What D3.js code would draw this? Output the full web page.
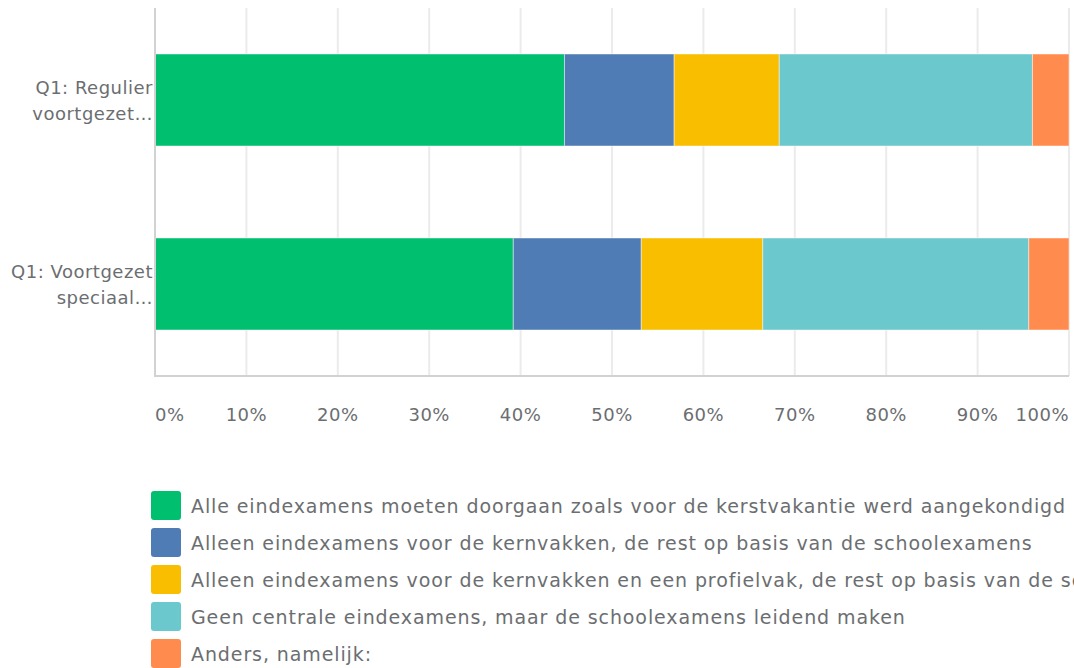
<!DOCTYPE html>
<html>
<head>
<meta charset="utf-8">
<script src="https://cdn.jsdelivr.net/npm/d3@7"></script>
<style>
  body { margin: 0; background: #fff; }
  svg { display: block; font-family: "DejaVu Sans", sans-serif; }
  .grid line { stroke: #ebebeb; stroke-width: 2; }
  .lbl { fill: #6b6e71; font-size: 18px; letter-spacing: 0.5px; }
  .leg { fill: #6b6e71; font-size: 19px; letter-spacing: 0.9px; }
</style>
</head>
<body>
<div id="chart"></div>
<script>
/* Q1 stacked bar chart (percent of respondents) */

// categories, shown as two truncated lines like the survey tool does
var categories = ["Regulier", "Speciaal"];
var categoryLines = [
  ["Q1: Regulier", "voortgezet\u2026"],
  ["Q1: Voortgezet", "speciaal\u2026"]
];

// answer options (series)
var answers = [
  "Alle eindexamens moeten doorgaan zoals voor de kerstvakantie werd aangekondigd",
  "Alleen eindexamens voor de kernvakken, de rest op basis van de schoolexamens",
  "Alleen eindexamens voor de kernvakken en een profielvak, de rest op basis van de schoolexamens",
  "Geen centrale eindexamens, maar de schoolexamens leidend maken",
  "Anders, namelijk:"
];
var colors = ["#00bf6f", "#507cb6", "#f9be00", "#6bc8cd", "#ff8b4f"];

// percentages per answer
var regulier = [44.8, 12.0, 11.5, 27.7, 4.0];
var speciaal = [39.2, 14.0, 13.3, 29.1, 4.4];

var ticks = [0, 10, 20, 30, 40, 50, 60, 70, 80, 90, 100];

// build the rows for d3.stack
var keys = answers.map(function(d, i) { return "a" + i; });
var rows = [regulier, speciaal].map(function(vals, r) {
  var row = { cat: categories[r] };
  vals.forEach(function(v, i) { row[keys[i]] = v; });
  return row;
});

var W = 1074, H = 668;
var plot = { left: 155, right: 1069, top: 8, bottom: 376 };

var svg = d3.select("#chart").append("svg")
    .attr("width", W)
    .attr("height", H);

var x = d3.scaleLinear().domain([0, 100]).range([plot.left, plot.right]);
var y = d3.scaleBand().domain(categories)
    .range([plot.top, plot.bottom])
    .paddingInner(0.5)
    .paddingOuter(0.25);

// grid lines
svg.append("g").attr("class", "grid")
  .selectAll("line")
  .data(ticks.slice(1))
  .enter().append("line")
    .attr("x1", function(d) { return x(d); })
    .attr("x2", function(d) { return x(d); })
    .attr("y1", plot.top)
    .attr("y2", plot.bottom);

// stacked bars
var stacked = d3.stack().keys(keys)(rows);
svg.append("g")
  .selectAll("g")
  .data(stacked)
  .enter().append("g")
    .attr("fill", function(d, i) { return colors[i]; })
  .selectAll("rect")
  .data(function(d) { return d; })
  .enter().append("rect")
    .attr("x", function(d) { return x(d[0]); })
    .attr("width", function(d) { return x(d[1]) - x(d[0]); })
    .attr("y", function(d) { return y(d.data.cat); })
    .attr("height", y.bandwidth())
    .attr("stroke", "#fff")
    .attr("stroke-opacity", 0.45)
    .attr("stroke-width", 1);

// axis lines (left + bottom)
svg.append("line")
    .attr("x1", plot.left).attr("x2", plot.left)
    .attr("y1", plot.top).attr("y2", plot.bottom + 1)
    .attr("stroke", "#d2d2d2").attr("stroke-width", 2);
svg.append("line")
    .attr("x1", plot.left).attr("x2", plot.right)
    .attr("y1", plot.bottom).attr("y2", plot.bottom)
    .attr("stroke", "#d2d2d2").attr("stroke-width", 2);

// x tick labels
svg.append("g")
  .selectAll("text")
  .data(ticks)
  .enter().append("text")
    .attr("class", "lbl")
    .attr("x", function(d) { return x(d); })
    .attr("y", 421)
    .attr("text-anchor", function(d, i) {
      return i === 0 ? "start" : (i === ticks.length - 1 ? "end" : "middle");
    })
    .text(function(d) { return d + "%"; });

// category labels
categories.forEach(function(c, i) {
  var cy = y(c) + y.bandwidth() / 2;
  var t = svg.append("text")
      .attr("class", "lbl")
      .attr("text-anchor", "end");
  categoryLines[i].forEach(function(line, j) {
    t.append("tspan")
        .attr("x", plot.left - 2)
        .attr("y", cy - 6 + j * 26)
        .text(line);
  });
});

// legend (third line runs past the right edge, as in the original)
var legend = svg.append("g")
  .selectAll("g")
  .data(answers)
  .enter().append("g")
    .attr("transform", function(d, i) { return "translate(151," + (491 + i * 37) + ")"; });

legend.append("rect")
    .attr("width", 30)
    .attr("height", 29)
    .attr("rx", 3)
    .attr("fill", function(d, i) { return colors[i]; });

legend.append("text")
    .attr("class", "leg")
    .attr("x", 40)
    .attr("y", 22)
    .text(function(d) { return d; });
</script>
</body>
</html>
